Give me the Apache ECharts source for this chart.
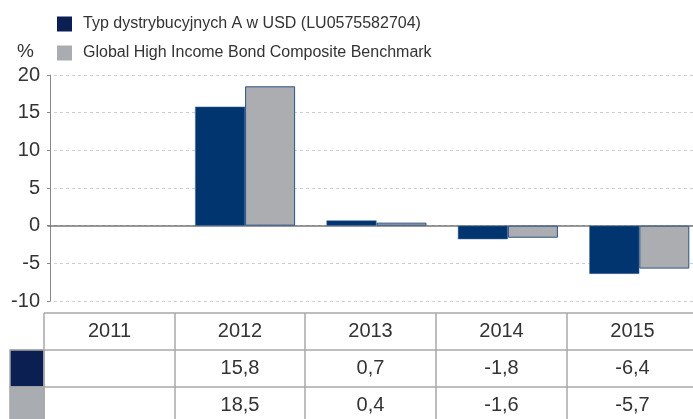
<!DOCTYPE html>
<html><head><meta charset="utf-8">
<script src="https://cdn.jsdelivr.net/npm/echarts@6/dist/echarts.min.js"></script>
<style>html,body{margin:0;padding:0;background:#fff}#c{width:693px;height:419px}</style>
</head><body><div id="c"></div>
<script>
var categories = ['2011','2012','2013','2014','2015'];
var seriesNames = ['Typ dystrybucyjnych A w USD (LU0575582704)','Global High Income Bond Composite Benchmark'];
var fundValues = [null, 15.8, 0.7, -1.8, -6.4];
var benchValues = [null, 18.5, 0.4, -1.6, -5.7];
var yTicks = [-10, -5, 0, 5, 10, 15, 20];

var FONT = 'Liberation Sans';
var TXT = '#333';
var LINE = '#a8a8a8';
var chart = echarts.init(document.getElementById('c'), null, {renderer:'canvas'});

function fmt(v){ return v == null ? '' : v.toFixed(1).replace('.', ','); }

var colEdges = [44, 175, 305, 436, 567, 698];
var rowEdges = [313, 350, 387, 424];
var graphics = [];
graphics.push({type:'text', left:17, top:42, style:{text:'%', font:'19px '+FONT, fill:TXT}});
graphics.push({type:'line', shape:{x1:44,y1:rowEdges[0],x2:698,y2:rowEdges[0]}, style:{stroke:LINE,lineWidth:1.5}});
graphics.push({type:'line', shape:{x1:10,y1:rowEdges[1],x2:698,y2:rowEdges[1]}, style:{stroke:LINE,lineWidth:1.5}});
graphics.push({type:'line', shape:{x1:10,y1:rowEdges[2],x2:698,y2:rowEdges[2]}, style:{stroke:LINE,lineWidth:1.5}});
graphics.push({type:'rect', shape:{x:10,y:rowEdges[1],width:34,height:37}, style:{fill:'#0b1f52',stroke:LINE,lineWidth:1.5}});
graphics.push({type:'rect', shape:{x:10,y:rowEdges[2],width:34,height:37}, style:{fill:'#a9acb0',stroke:LINE,lineWidth:1.5}});
colEdges.forEach(function(x){
  graphics.push({type:'line', shape:{x1:x,y1:rowEdges[0],x2:x,y2:424}, style:{stroke:LINE,lineWidth:1.5}});
});
var rows = [categories, fundValues.map(fmt), benchValues.map(fmt)];
rows.forEach(function(r, ri){
  r.forEach(function(t, ci){
    var cx = (colEdges[ci] + colEdges[ci+1]) / 2;
    var cy = (rowEdges[ri] + rowEdges[ri+1]) / 2;
    graphics.push({type:'text', x:cx, y:cy, style:{text:t, font:'20px '+FONT, fill:TXT, textAlign:'center', textVerticalAlign:'middle'}});
  });
});

chart.setOption({
  animation:false,
  textStyle:{fontFamily:FONT},
  legend:{
    orient:'vertical', left:52, top:11, itemWidth:15, itemHeight:15, itemGap:13,
    icon:'rect',
    itemStyle:{borderWidth:0},
    textStyle:{fontSize:16, color:TXT, fontFamily:FONT, padding:[0,0,0,6]},
    data:[{name:seriesNames[0], itemStyle:{color:'#0b1f52', borderWidth:0}},{name:seriesNames[1], itemStyle:{color:'#a9acb0', borderWidth:0}}]
  },
  grid:{left:48, top:75, width:657, bottom:118, containLabel:false, outerBoundsMode:'none'},
  xAxis:{type:'category', data:categories,
    axisLine:{onZero:true, lineStyle:{color:'#777', width:1.5}},
    axisTick:{show:false}, axisLabel:{show:false}, splitLine:{show:false}},
  yAxis:{type:'value', min:-10, max:20, interval:5, offset:-2,
    axisLine:{show:true, lineStyle:{color:'#888', width:1}},
    axisTick:{show:true, length:3, lineStyle:{color:'#888'}},
    axisLabel:{fontSize:20, color:TXT, margin:10, fontFamily:FONT},
    splitLine:{show:true, lineStyle:{color:'#cfcfcf', type:[3,3], width:1}}},
  series:[
    {name:seriesNames[0], type:'bar', data:fundValues, barWidth:50, barGap:'0%',
     itemStyle:{color:'#003570', borderColor:'#4a6c99', borderWidth:0.5}},
    {name:seriesNames[1], type:'bar', data:benchValues, barWidth:50, barGap:'0%',
     itemStyle:{color:'#abadb1', borderColor:'#2c5283', borderWidth:1}}
  ],
  graphic:graphics
});
</script></body></html>
